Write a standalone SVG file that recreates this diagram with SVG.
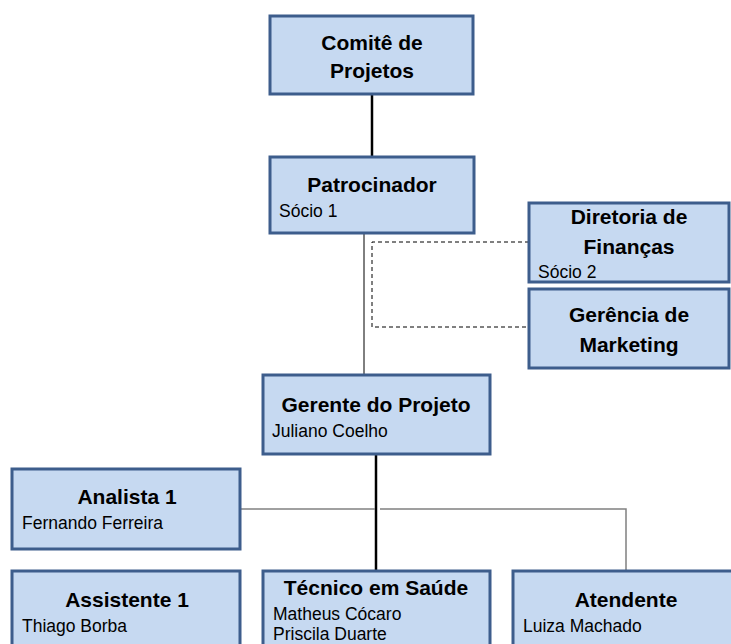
<svg xmlns="http://www.w3.org/2000/svg" width="731" height="644" viewBox="0 0 731 644">
<style>
.box{fill:#c6d9f1;stroke:#3d5d8c;stroke-width:3}
.t{font-family:"Liberation Sans",Arial,sans-serif;font-weight:bold;font-size:21px;fill:#000;text-anchor:middle}
.s{font-family:"Liberation Sans",Arial,sans-serif;font-size:17.5px;fill:#000}
</style>
<rect width="731" height="644" fill="#fff"/>
<g id="connectors" fill="none">
<line x1="372" y1="94" x2="372" y2="157" stroke="#000" stroke-width="2.5"/>
<line x1="364" y1="233" x2="364" y2="377" stroke="#000" stroke-width="1"/>
<polyline points="529,242 372,242 372,327 529,327" stroke="#000" stroke-width="1" stroke-dasharray="4,3"/>
<line x1="376" y1="454" x2="376" y2="571" stroke="#000" stroke-width="2.5"/>
<polyline points="240,509 375,509" stroke="#808080" stroke-width="1.5"/>
<polyline points="380,509 626,509 626,571" stroke="#808080" stroke-width="1.5"/>
</g>
<g id="comite">
<rect class="box" x="270" y="16" width="203" height="78"/>
<text class="t" x="372" y="50">Comitê de</text>
<text class="t" x="372" y="78">Projetos</text>
</g>
<g id="patrocinador">
<rect class="box" x="270" y="157" width="204" height="76"/>
<text class="t" x="372" y="192">Patrocinador</text>
<text class="s" x="279" y="217">Sócio 1</text>
</g>
<g id="diretoria">
<rect class="box" x="529" y="203" width="200" height="79"/>
<text class="t" x="629" y="224">Diretoria de</text>
<text class="t" x="629" y="254">Finanças</text>
<text class="s" x="538" y="278">Sócio 2</text>
</g>
<g id="gerencia">
<rect class="box" x="529" y="289" width="200" height="79"/>
<text class="t" x="629" y="322">Gerência de</text>
<text class="t" x="629" y="352">Marketing</text>
</g>
<g id="gerente">
<rect class="box" x="263" y="375" width="227" height="79"/>
<text class="t" x="376" y="412">Gerente do Projeto</text>
<text class="s" x="272" y="437">Juliano Coelho</text>
</g>
<g id="analista">
<rect class="box" x="12" y="469" width="228" height="80"/>
<text class="t" x="127" y="504">Analista 1</text>
<text class="s" x="22" y="529">Fernando Ferreira</text>
</g>
<g id="assistente">
<rect class="box" x="12" y="571" width="228" height="80"/>
<text class="t" x="127" y="607">Assistente 1</text>
<text class="s" x="22" y="632">Thiago Borba</text>
</g>
<g id="tecnico">
<rect class="box" x="263" y="571" width="227" height="80"/>
<text class="t" x="376" y="595">Técnico em Saúde</text>
<text class="s" x="273" y="620">Matheus Cócaro</text>
<text class="s" x="273" y="640">Priscila Duarte</text>
</g>
<g id="atendente">
<rect class="box" x="513" y="571" width="222" height="80"/>
<text class="t" x="626" y="607">Atendente</text>
<text class="s" x="523" y="632">Luiza Machado</text>
</g>
</svg>
